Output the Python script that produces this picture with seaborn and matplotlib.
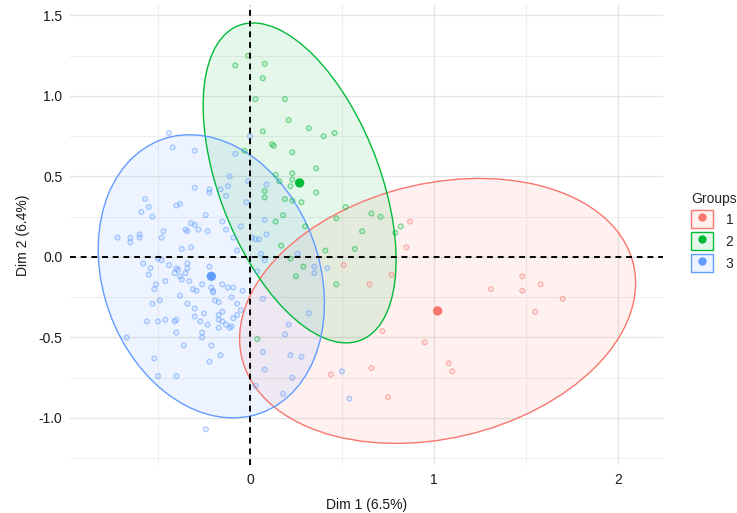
import matplotlib
matplotlib.use("Agg")
import matplotlib.pyplot as plt
from matplotlib.patches import Ellipse, Patch
from matplotlib.lines import Line2D
from matplotlib.ticker import MultipleLocator, FixedLocator
import numpy as np
import pandas as pd
import seaborn as sns

# individuals, group 1 (red)
red_x = [1.31, 1.48, 1.48, 1.58, 1.70, 1.55, 0.72, 0.95, 1.08, 1.10, 0.66, 0.75,
         0.87, 0.85, 0.51, 0.77, 0.65, 0.44]
red_y = [-0.20, -0.12, -0.21, -0.17, -0.26, -0.34, -0.46, -0.53, -0.66, -0.71, -0.69, -0.87,
         0.22, 0.06, -0.05, -0.11, -0.17, -0.73]

# group 2 (green)
green_x = [-0.01, -0.08, 0.08, 0.07, 0.03, 0.19, 0.21, 0.32, 0.40, 0.46, 0.07, 0.12,
           0.13, 0.23, -0.03, 0.36, 0.23, 0.14, 0.16, 0.22, 0.23, 0.36, 0.08, 0.08,
           0.19, 0.23, 0.28, 0.52, 0.66, 0.71, 0.47, 0.18, 0.14, 0.30, 0.61, 0.82,
           0.79, 0.57, 0.41, 0.17, 0.22, 0.29, 0.25, 0.47, 0.04]
green_y = [1.25, 1.19, 1.20, 1.11, 0.98, 0.98, 0.85, 0.80, 0.75, 0.77, 0.78, 0.70,
           0.69, 0.65, 0.66, 0.55, 0.52, 0.51, 0.47, 0.44, 0.48, 0.40, 0.41, 0.37,
           0.36, 0.35, 0.34, 0.31, 0.27, 0.25, 0.24, 0.26, 0.22, 0.19, 0.16, 0.19,
           0.15, 0.05, 0.04, 0.07, -0.01, -0.06, -0.12, -0.17, -0.51]

# group 3 (blue)
blue_x = [-0.44, -0.42, -0.30, -0.08, 0.00, -0.11, -0.12, -0.13, -0.01, 0.09, -0.02, -0.30,
          -0.22, -0.22, -0.16, -0.57, -0.55, -0.59, -0.53, -0.40, -0.38, -0.24, -0.15, -0.13,
          -0.05, -0.09, -0.32, -0.30, -0.28, -0.35, -0.34, -0.23, -0.47, -0.48, -0.72, -0.65,
          -0.65, -0.60, -0.60, -0.37, -0.32, 0.08, 0.09, 0.01, 0.03, 0.05, 0.06, -0.07,
          -0.58, -0.54, -0.55, -0.50, -0.48, -0.44, -0.40, -0.39, -0.41, -0.34, -0.34, -0.35,
          -0.38, -0.37, -0.33, -0.46, -0.51, -0.52, -0.26, -0.31, -0.29, -0.22, -0.21, -0.20,
          -0.20, -0.19, -0.17, -0.38, -0.34, -0.49, -0.53, -0.30, -0.25, -0.30, -0.17, -0.40,
          -0.41, -0.46, -0.50, -0.56, -0.27, -0.23, -0.17, -0.40, -0.26, -0.26, -0.67, -0.36,
          -0.21, 0.08, 0.04, 0.35, 0.35, 0.42, -0.15, -0.12, -0.09, -0.04, -0.10, -0.07,
          0.07, -0.05, -0.15, -0.07, -0.09, -0.17, -0.15, -0.13, -0.11, -0.10, 0.32, 0.21,
          0.19, -0.52, -0.50, -0.40, -0.22, -0.16, 0.07, 0.08, 0.22, 0.28, 0.23, 0.03,
          0.18, 0.50, 0.54, -0.24, 0.26]
blue_y = [0.77, 0.68, 0.66, 0.64, 0.75, 0.50, 0.44, 0.38, 0.47, 0.45, 0.34, 0.43,
          0.42, 0.40, 0.42, 0.36, 0.31, 0.28, 0.25, 0.32, 0.33, 0.26, 0.22, 0.17,
          0.19, 0.12, 0.21, 0.20, 0.17, 0.17, 0.16, 0.16, 0.16, 0.12, 0.12, 0.12,
          0.09, 0.14, 0.12, 0.05, 0.06, 0.23, 0.14, 0.12, 0.11, 0.11, 0.02, 0.04,
          -0.04, -0.07, -0.11, -0.01, -0.02, -0.05, -0.07, -0.08, -0.10, -0.04, -0.07, -0.10,
          -0.12, -0.14, -0.15, -0.15, -0.17, -0.20, -0.17, -0.20, -0.21, -0.06, -0.19, -0.21,
          -0.22, -0.27, -0.28, -0.24, -0.29, -0.27, -0.29, -0.32, -0.35, -0.37, -0.36, -0.39,
          -0.40, -0.39, -0.40, -0.40, -0.40, -0.42, -0.44, -0.47, -0.47, -0.50, -0.50, -0.55,
          -0.55, -0.02, -0.09, -0.06, -0.10, -0.07, -0.17, -0.19, -0.19, -0.21, -0.25, -0.29,
          -0.26, -0.33, -0.34, -0.36, -0.38, -0.39, -0.40, -0.42, -0.44, -0.43, -0.35, -0.42,
          -0.48, -0.63, -0.74, -0.74, -0.65, -0.61, -0.59, -0.70, -0.61, -0.62, -0.75, -0.80,
          -0.85, -0.71, -0.88, -1.07, 0.02]

groups = ["1", "2", "3"]
colors = ["#F8766D", "#00BA38", "#619CFF"]

# group centres (big dots) and the ellipse shape (covariance-like) per group
centre_x = [1.02, 0.27, -0.21]
centre_y = [-0.335, 0.46, -0.12]
ell_sxx = [1.158, 0.275, 0.378]
ell_syy = [0.677, 0.987, 0.773]
ell_sxy = [0.186, -0.251, -0.103]

df = pd.DataFrame({
    "Dim1": red_x + green_x + blue_x,
    "Dim2": red_y + green_y + blue_y,
    "Groups": ["1"] * len(red_x) + ["2"] * len(green_x) + ["3"] * len(blue_x),
})
centres = pd.DataFrame({"Dim1": centre_x, "Dim2": centre_y, "Groups": groups})
pal = dict(zip(groups, colors))

sns.set_style("white")
plt.rcParams["font.family"] = ["Liberation Sans", "DejaVu Sans"]
plt.rcParams["axes.unicode_minus"] = False

fig = plt.figure(figsize=(7.37, 5.13), dpi=100)
ax = fig.add_axes([70 / 737, 48 / 513, 593 / 737, 460 / 513])

# confidence ellipses
for i, g in enumerate(groups):
    cov = np.array([[ell_sxx[i], ell_sxy[i]], [ell_sxy[i], ell_syy[i]]])
    vals, vecs = np.linalg.eigh(cov)
    order = vals.argsort()[::-1]
    vals, vecs = vals[order], vecs[:, order]
    ang = np.degrees(np.arctan2(vecs[1, 0], vecs[0, 0]))
    ax.add_patch(Ellipse((centre_x[i], centre_y[i]), 2 * np.sqrt(vals[0]), 2 * np.sqrt(vals[1]),
                         angle=ang, facecolor=colors[i], alpha=0.1, edgecolor="none", zorder=1))
    ax.add_patch(Ellipse((centre_x[i], centre_y[i]), 2 * np.sqrt(vals[0]), 2 * np.sqrt(vals[1]),
                         angle=ang, facecolor="none", edgecolor=colors[i], lw=1.0, zorder=2))

sns.scatterplot(data=df, x="Dim1", y="Dim2", hue="Groups", palette=pal, s=12,
                legend=False, ax=ax, zorder=3)
pts = ax.collections[-1]
fc = pts.get_facecolors().copy()
edge = fc.copy()
edge[:, 3] = 0.5
face = fc.copy()
face[:, 3] = 0.12
pts.set_facecolors(face)
pts.set_edgecolors(edge)
pts.set_linewidths(0.9)

sns.scatterplot(data=centres, x="Dim1", y="Dim2", hue="Groups", palette=pal, s=45,
                edgecolor="none", legend=False, ax=ax, zorder=5)

ax.axhline(0, color="black", ls=(0, (3, 2.5)), lw=1.4, zorder=4)
ax.axvline(0, color="black", ls=(0, (3, 2.5)), lw=1.4, zorder=4)

ax.set_xlim(-0.978, 2.245)
ax.set_ylim(-1.292, 1.565)
ax.xaxis.set_major_locator(FixedLocator([0, 1, 2]))
ax.xaxis.set_minor_locator(FixedLocator([-0.5, 0.5, 1.5]))
ax.yaxis.set_major_locator(MultipleLocator(0.5))
ax.yaxis.set_minor_locator(MultipleLocator(0.25))
ax.set_xticklabels(["0", "1", "2"])
ax.set_yticklabels(["%.1f" % v for v in ax.get_yticks()])
ax.grid(True, which="major", color="#E6E6E6", lw=1.0, zorder=0)
ax.grid(True, which="minor", color="#EEEEEE", lw=0.8, zorder=0)
ax.set_axisbelow(True)
for s in ax.spines.values():
    s.set_visible(False)
ax.tick_params(which="major", length=3.5, width=1.0, color="#222222", labelsize=10,
               labelcolor="#1A1A1A", pad=2)
ax.tick_params(which="minor", length=0)

ax.set_xlabel("Dim 1 (6.5%)", fontsize=10, color="#1A1A1A", labelpad=8)
ax.set_ylabel("Dim 2 (6.4%)", fontsize=10, color="#1A1A1A", labelpad=6)

handles = []
for c in colors:
    box = Patch(facecolor=matplotlib.colors.to_rgba(c, 0.1), edgecolor=c, lw=1.0)
    dot = Line2D([], [], marker="o", ls="", markersize=6, markerfacecolor=c,
                 markeredgecolor="none")
    handles.append((box, dot))
fig.legend(handles, groups, title="Groups", loc="center left",
           bbox_to_anchor=(684 / 737, 1 - 232 / 513), frameon=False,
           handlelength=1.6, handleheight=1.6, fontsize=10, title_fontsize=10,
           labelspacing=0.3, handletextpad=0.9, borderpad=0, alignment="left")

fig.savefig("out.png", dpi=100)
